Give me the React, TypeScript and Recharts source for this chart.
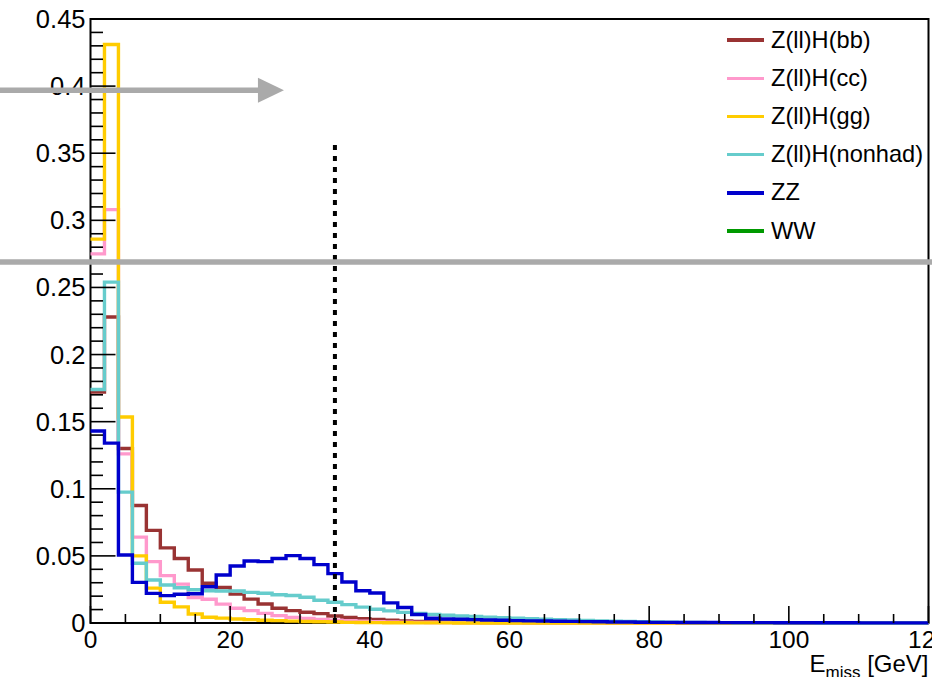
import React from "react";
import { LineChart, Line, XAxis, YAxis, ReferenceLine, ReferenceArea, Legend } from "recharts";

// Missing-energy distributions, 2 GeV bins from 0 to 120 GeV (normalised)
const BIN_WIDTH = 2;
const N_BINS = 60;

const zllHbb = [
  0.172, 0.228, 0.130, 0.0875, 0.069, 0.056, 0.048, 0.0395, 0.0296, 0.0265,
  0.0215, 0.0178, 0.0142, 0.011, 0.0092, 0.008, 0.007, 0.0052, 0.0041, 0.0032,
  0.0026, 0.002, 0.0016, 0.0012, 0.001, 0.0008, 0.0006, 0.0005, 0.0004, 0.0003,
  0.0003, 0.0002, 0.0002, 0.0001, 0.0001, 0.0001, 0.0001, 0, 0, 0,
  0, 0, 0, 0, 0, 0, 0, 0, 0, 0,
  0, 0, 0, 0, 0, 0, 0, 0, 0, 0,
];

const zllHcc = [
  0.275, 0.308, 0.126, 0.064, 0.0457, 0.0353, 0.029, 0.019, 0.0177, 0.0141,
  0.011, 0.0092, 0.0072, 0.0055, 0.0042, 0.0033, 0.0027, 0.0021, 0.0017, 0.0013,
  0.001, 0.0008, 0.0006, 0.0005, 0.0004, 0.0003, 0.0002, 0.0002, 0.0001, 0.0001,
  0.0001, 0, 0, 0, 0, 0, 0, 0, 0, 0,
  0, 0, 0, 0, 0, 0, 0, 0, 0, 0,
  0, 0, 0, 0, 0, 0, 0, 0, 0, 0,
];

const zllHgg = [
  0.286, 0.431, 0.1535, 0.050, 0.026, 0.0155, 0.012, 0.0067, 0.0043, 0.0036,
  0.003, 0.0025, 0.0021, 0.0018, 0.0014, 0.0011, 0.0009, 0.0007, 0.0005, 0.0004,
  0.0003, 0.0002, 0.0002, 0.0001, 0.0001, 0.0001, 0, 0, 0, 0,
  0, 0, 0, 0, 0, 0, 0, 0, 0, 0,
  0, 0, 0, 0, 0, 0, 0, 0, 0, 0,
  0, 0, 0, 0, 0, 0, 0, 0, 0, 0,
];

const zllHnonhad = [
  0.174, 0.254, 0.0975, 0.0445, 0.032, 0.0283, 0.0263, 0.0248, 0.024, 0.0238,
  0.0238, 0.0228, 0.0222, 0.021, 0.0205, 0.0192, 0.017, 0.0155, 0.0137, 0.0118,
  0.0102, 0.009, 0.0079, 0.0071, 0.0064, 0.0058, 0.0052, 0.0048, 0.0044, 0.004,
  0.0036, 0.0032, 0.0028, 0.0025, 0.0022, 0.0019, 0.0016, 0.0013, 0.0011, 0.0009,
  0.0007, 0.0006, 0.0005, 0.0004, 0.0003, 0.0003, 0.0002, 0.0002, 0.0001, 0.0001,
  0.0001, 0.0001, 0, 0, 0, 0, 0, 0, 0, 0,
];

const zz = [
  0.143, 0.134, 0.0507, 0.0303, 0.0221, 0.0204, 0.0214, 0.0218, 0.027, 0.0358,
  0.0425, 0.0462, 0.0457, 0.048, 0.0502, 0.048, 0.0435, 0.0368, 0.0305, 0.024,
  0.0223, 0.015, 0.0115, 0.0063, 0.0035, 0.003, 0.0028, 0.0025, 0.0022, 0.002,
  0.0018, 0.0016, 0.0015, 0.0013, 0.0012, 0.001, 0.0009, 0.0008, 0.0007, 0.0006,
  0.0005, 0.0005, 0.0004, 0.0004, 0.0004, 0.0003, 0.0003, 0.0003, 0.0003, 0.0002,
  0.0002, 0.0002, 0.0002, 0.0002, 0.0002, 0.0001, 0.0001, 0.0001, 0.0001, 0.0001,
];

// WW has no entries in this selection; it appears in the legend only
const ww: number[] = [];

const seriesNames = ["Z(ll)H(bb)", "Z(ll)H(cc)", "Z(ll)H(gg)", "Z(ll)H(nonhad)", "ZZ", "WW"];
const seriesKeys = ["bb", "cc", "gg", "nonhad", "zz", "ww"];
const seriesColors = ["#993333", "#ff99cc", "#ffcc00", "#66cccc", "#0000cc", "#009900"];
const seriesValues = [zllHbb, zllHcc, zllHgg, zllHnonhad, zz, ww];

const xTickValues = [0, 5, 10, 15, 20, 25, 30, 35, 40, 45, 50, 55, 60, 65, 70, 75, 80, 85, 90, 95, 100, 105, 110, 115, 120];
const xLabelStep = 20;
const yTickValues = Array.from({ length: 46 }, (_, i) => i / 100);

const cutValue = 35; // Emiss cut
const cutLineTop = 0.36;

const FONT = "'Liberation Sans', Arial, Helvetica, sans-serif";

// One row per bin edge; the closing edge repeats the last bin so the step closes at 120
const rows = Array.from({ length: N_BINS + 1 }, (_, i) => {
  const row: Record<string, number> = { x: i * BIN_WIDTH };
  seriesKeys.forEach((k, s) => {
    const vals = seriesValues[s];
    if (vals.length) row[k] = vals[Math.min(i, N_BINS - 1)];
  });
  return row;
});

const YTick = (props: any) => {
  const { x, y, payload } = props;
  const v = payload.value as number;
  const major = Math.round(v * 100) % 5 === 0;
  const label = Number(v.toFixed(2)).toString();
  return (
    <g>
      <line x1={x} x2={x + (major ? 25 : 12.5)} y1={y} y2={y} stroke="#000" strokeWidth={1.6} />
      {major && (
        <text x={x - 5} y={y} textAnchor="end" dominantBaseline="central" fontSize={25.5} fontFamily={FONT} fill="#000">
          {label}
        </text>
      )}
    </g>
  );
};

const XTick = (props: any) => {
  const { x, y, payload } = props;
  const v = payload.value as number;
  const major = v % xLabelStep === 0;
  return (
    <g>
      <line x1={x} x2={x} y1={y} y2={y - (major ? 17 : 9)} stroke="#000" strokeWidth={1.6} />
      {major && (
        <text x={x} y={y + 25} textAnchor="middle" fontSize={24.5} fontFamily={FONT} fill="#000">
          {v}
        </text>
      )}
    </g>
  );
};

const XTitle = (props: any) => {
  const { viewBox } = props;
  const right = viewBox.x + viewBox.width;
  return (
    <text x={right} y={viewBox.y + 49} textAnchor="end" fontFamily={FONT} fontSize={24} fill="#000">
      E
      <tspan fontSize={17} dy={6}>miss</tspan>
      <tspan dy={-6}> [GeV]</tspan>
    </text>
  );
};

const LegendBox = () => (
  <div style={{ fontFamily: FONT, fontSize: 23.6, color: "#000" }}>
    {seriesNames.map((name, i) => (
      <div key={name} style={{ display: "flex", alignItems: "center", height: 38.2, whiteSpace: "nowrap" }}>
        <span style={{ display: "inline-block", width: 37, height: 3.5, background: seriesColors[i], marginRight: 7 }} />
        <span>{name}</span>
      </div>
    ))}
  </div>
);

const Arrow = (p: any) => {
  const { x1, y1, x2, y2 } = p;
  const head = 26;
  return (
    <g>
      <line x1={x1} y1={y1} x2={x2 - head + 2} y2={y2} stroke="#aaaaaa" strokeWidth={5.5} />
      <polygon points={`${x2},${y2} ${x2 - head},${y2 - 12.5} ${x2 - head},${y2 + 12.5}`} fill="#aaaaaa" />
    </g>
  );
};

export default function App() {
  return (
    <div style={{ position: "absolute", left: 0, top: 0, background: "#fff" }}>
      <LineChart width={932} height={677} data={rows} margin={{ top: 19, right: 3.5, bottom: 0, left: 0 }}>
        <ReferenceArea x1={0} x2={120} y1={0} y2={0.45} fill="none" stroke="#000" strokeWidth={2} ifOverflow="visible" />
        <XAxis
          dataKey="x"
          type="number"
          domain={[0, 120]}
          ticks={xTickValues}
          interval={0}
          height={54}
          tickSize={0}
          tickMargin={0}
          axisLine={false}
          tickLine={false}
          tick={<XTick />}
          label={<XTitle />}
        />
        <YAxis
          type="number"
          domain={[0, 0.45]}
          ticks={yTickValues}
          interval={0}
          width={90.5}
          tickSize={0}
          tickMargin={0}
          axisLine={false}
          tickLine={false}
          tick={<YTick />}
        />
        {seriesKeys.map((k, i) =>
          seriesValues[i].length ? (
            <Line
              key={k}
              dataKey={k}
              name={seriesNames[i]}
              type="stepAfter"
              stroke={seriesColors[i]}
              strokeWidth={3.4}
              dot={false}
              activeDot={false}
              isAnimationActive={false}
            />
          ) : null
        )}
        <ReferenceLine
          segment={[{ x: cutValue, y: 0 }, { x: cutValue, y: cutLineTop }]}
          stroke="#000"
          strokeWidth={4}
          strokeDasharray="5 6"
          zIndex={450}
        />
        <ReferenceLine
          segment={[{ x: -13.5, y: 0.269 }, { x: 121, y: 0.269 }]}
          stroke="#aaaaaa"
          strokeWidth={5.5}
          ifOverflow="visible"
          zIndex={2500}
        />
        <ReferenceLine
          segment={[{ x: -13.5, y: 0.397 }, { x: 27.7, y: 0.397 }]}
          shape={Arrow}
          ifOverflow="visible"
          zIndex={2500}
        />
        <Legend
          layout="vertical"
          align="center"
          verticalAlign="middle"
          wrapperStyle={{ top: 21, left: 727, width: 205, height: 232 }}
          content={() => <LegendBox />}
        />
      </LineChart>
    </div>
  );
}
